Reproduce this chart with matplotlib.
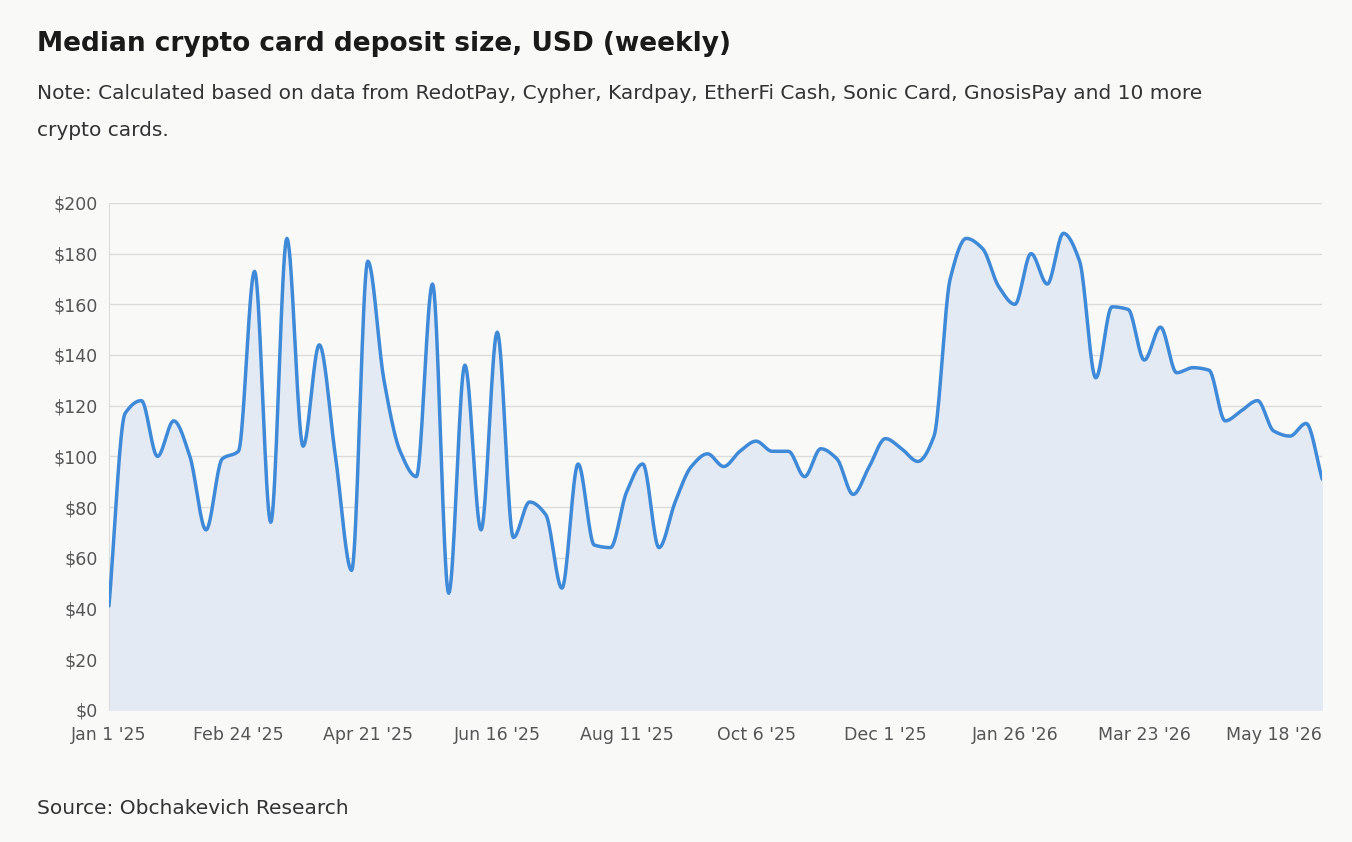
import numpy as np
import matplotlib
matplotlib.use("Agg")
import matplotlib.pyplot as plt

values = [41,117,122,100,114,100,71,99,102,173,74,186,104,144,100,55,177,130,102,92,
          168,46,136,71,149,68,82,77,48,97,65,64,86,97,64,82,96,101,96,102,
          106,102,102,92,103,99,85,96,107,103,98,108,170,186,182,167,160,180,168,188,
          177,131,159,158,138,151,133,135,134,114,118,122,110,108,113,91]
tick_labels = ["Jan 1 '25","Feb 24 '25","Apr 21 '25","Jun 16 '25","Aug 11 '25","Oct 6 '25",
               "Dec 1 '25","Jan 26 '26","Mar 23 '26","May 18 '26"]
tick_weeks = [0,8,16,24,32,40,48,56,64,72]

def monotone(x, y, n=20):
    x = np.asarray(x, float); y = np.asarray(y, float)
    h = np.diff(x); d = np.diff(y)/h
    m = np.zeros_like(y)
    for i in range(1, len(y)-1):
        if d[i-1]*d[i] > 0:
            m[i] = 3*(h[i-1]+h[i])/((2*h[i]+h[i-1])/d[i-1] + (h[i]+2*h[i-1])/d[i])
    m[0] = d[0]; m[-1] = d[-1]
    xs, ys = [], []
    for i in range(len(h)):
        t = np.linspace(0, 1, n, endpoint=False)
        h00 = 2*t**3-3*t**2+1; h10 = t**3-2*t**2+t; h01 = -2*t**3+3*t**2; h11 = t**3-t**2
        xs.append(x[i]+t*h[i])
        ys.append(h00*y[i]+h10*h[i]*m[i]+h01*y[i+1]+h11*h[i]*m[i+1])
    xs.append([x[-1]]); ys.append([y[-1]])
    return np.concatenate(xs), np.concatenate(ys)

bg = "#f9f9f8"
fig = plt.figure(figsize=(13.52, 8.42), dpi=100, facecolor=bg)
ax = fig.add_axes([0.0806, 0.157, 0.8974, 0.602], facecolor=bg)
x = np.arange(len(values))
xs, ys = monotone(x, values)
ax.fill_between(xs, 0, ys, color="#e3eaf4", zorder=1)
ax.plot(xs, ys, color="#3f8ad8", lw=2.5, zorder=3, solid_capstyle="round")
ax.set_xlim(0, len(values)-1)
ax.set_ylim(0, 200)
ax.set_yticks(range(0, 201, 20))
ax.set_yticklabels([f"${v}" for v in range(0, 201, 20)])
ax.set_xticks(tick_weeks)
ax.set_xticklabels(tick_labels)
ax.grid(axis="y", color="#dcdcdc", lw=1)
ax.set_axisbelow(True)
for s in ["top", "right", "bottom"]:
    ax.spines[s].set_visible(False)
ax.spines["left"].set_color("#dcdcdc")
ax.tick_params(length=0, labelsize=12.5, labelcolor="#555555", pad=8)
ax.tick_params(axis="x", pad=12)

fig.text(0.027, 0.948, "Median crypto card deposit size, USD (weekly)", fontsize=19, fontweight="bold",
         color="#1a1a1a", va="center")
fig.text(0.027, 0.889, "Note: Calculated based on data from RedotPay, Cypher, Kardpay, EtherFi Cash, Sonic Card, GnosisPay and 10 more",
         fontsize=14.5, color="#333333", va="center")
fig.text(0.027, 0.845, "crypto cards.", fontsize=14.5, color="#333333", va="center")
fig.text(0.027, 0.04, "Source: Obchakevich Research", fontsize=14.5, color="#333333", va="center")
fig.savefig("out.png", dpi=100, facecolor=bg)
